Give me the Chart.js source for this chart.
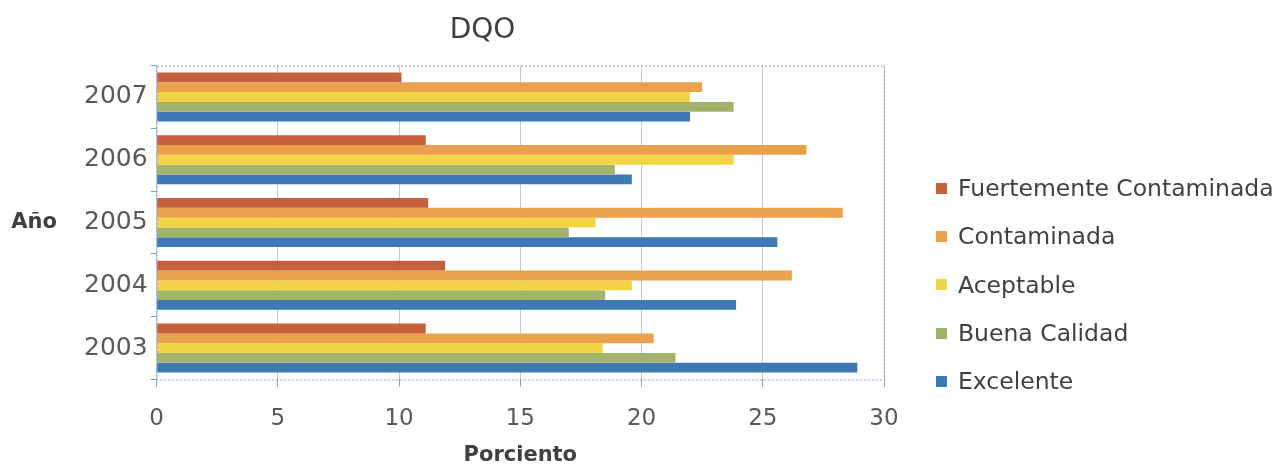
<!DOCTYPE html>
<html>
<head>
<meta charset="utf-8">
<script src="https://cdn.jsdelivr.net/npm/chart.js@4"></script>
<style>
html, body { margin: 0; padding: 0; background: #fff; }
#wrap { position: relative; width: 1278px; height: 466px; }
#grafico { position: absolute; left: 0; top: 0; }
#leyenda { position: absolute; left: 936px; top: 164px; font-family: 'DejaVu Sans'; font-size: 23.5px; color: #404040; }
#leyenda .item { display: flex; align-items: center; height: 48.3px; white-space: nowrap; }
#leyenda .caja { width: 11px; height: 11px; margin-right: 11px; flex: none; }
</style>
</head>
<body>
<div id="wrap">
  <canvas id="grafico" width="974" height="466"></canvas>
  <div id="leyenda"></div>
</div>
<script>
// datos (orden de arriba hacia abajo)
const anios = ['2007', '2006', '2005', '2004', '2003'];
const fuertementeContaminada = [10.1, 11.1, 11.2, 11.9, 11.1];
const contaminada = [22.5, 26.8, 28.3, 26.2, 20.5];
const aceptable = [22.0, 23.8, 18.1, 19.6, 18.4];
const buenaCalidad = [23.8, 18.9, 17.0, 18.5, 21.4];
const excelente = [22.0, 19.6, 25.6, 23.9, 28.9];
const ticksX = [0, 5, 10, 15, 20, 25, 30];

const series = [
  { label: 'Fuertemente Contaminada', data: fuertementeContaminada, color: '#c6603c' },
  { label: 'Contaminada', data: contaminada, color: '#e9a24b' },
  { label: 'Aceptable', data: aceptable, color: '#f2d545' },
  { label: 'Buena Calidad', data: buenaCalidad, color: '#a2b46c' },
  { label: 'Excelente', data: excelente, color: '#3e79b5' }
];

const gris = '#595959';
const fuente = 'DejaVu Sans';

// borde punteado del area y titulo horizontal del eje Y
const extras = {
  id: 'extras',
  afterDraw(chart) {
    const ctx = chart.ctx;
    const a = chart.chartArea;
    ctx.save();
    ctx.strokeStyle = '#7f9bd0';
    ctx.lineWidth = 1;
    ctx.setLineDash([2, 2]);
    ctx.strokeRect(a.left + 0.5, a.top + 0.5, a.right - a.left, a.bottom - a.top);
    ctx.setLineDash([]);
    ctx.fillStyle = '#404040';
    ctx.font = 'bold 21px "' + fuente + '"';
    ctx.textAlign = 'center';
    ctx.textBaseline = 'middle';
    ctx.fillText('Año', 34, (a.top + a.bottom) / 2);
    ctx.restore();
  }
};

// leyenda en html, a la derecha
const leyenda = document.getElementById('leyenda');
series.forEach(s => {
  const item = document.createElement('div');
  item.className = 'item';
  const caja = document.createElement('span');
  caja.className = 'caja';
  caja.style.background = s.color;
  item.appendChild(caja);
  item.appendChild(document.createTextNode(s.label));
  leyenda.appendChild(item);
});

new Chart(document.getElementById('grafico'), {
  type: 'bar',
  data: {
    labels: anios,
    datasets: series.map(s => ({
      label: s.label,
      data: s.data,
      backgroundColor: s.color,
      borderWidth: 0,
      categoryPercentage: 0.78,
      barPercentage: 1
    }))
  },
  options: {
    indexAxis: 'y',
    responsive: false,
    animation: false,
    layout: { padding: { left: 81, right: 90, top: 8, bottom: 0 } },
    scales: {
      x: {
        min: 0,
        max: 30,
        afterBuildTicks: ax => { ax.ticks = ticksX.map(v => ({ value: v })); },
        grid: { color: '#b9c8ea', tickLength: 7, tickColor: '#7f9bd0' },
        border: { display: false },
        ticks: { color: gris, font: { family: fuente, size: 23 }, padding: 19 },
        title: { display: true, text: 'Porciento', color: '#404040', font: { family: fuente, size: 21, weight: 'bold', lineHeight: 0.95 }, padding: { top: -6, bottom: 0 } }
      },
      y: {
        grid: { drawOnChartArea: false, tickLength: 6, tickColor: '#7f9bd0', offset: true },
        border: { display: false },
        ticks: { color: gris, font: { family: fuente, size: 25 }, padding: 3 }
      }
    },
    plugins: {
      title: {
        display: true,
        text: 'DQO',
        color: '#404040',
        font: { family: fuente, size: 28, weight: 'normal' },
        padding: { top: 6, bottom: 18 }
      },
      legend: { display: false },
      tooltip: { enabled: false }
    }
  },
  plugins: [extras]
});
</script>
</body>
</html>
